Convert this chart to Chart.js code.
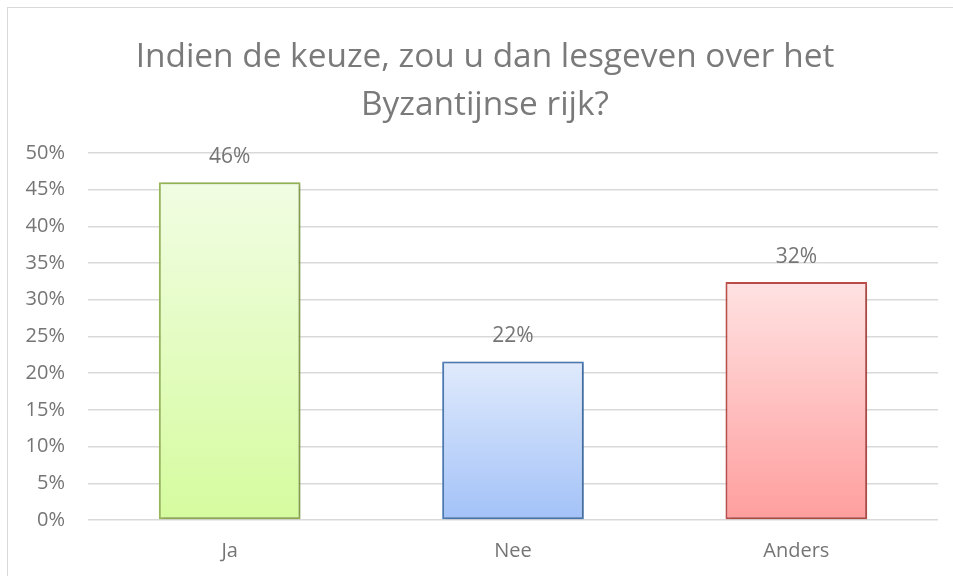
<!DOCTYPE html>
<html>
<head>
<meta charset="utf-8">
<script src="https://cdn.jsdelivr.net/npm/chart.js@4.4.1/dist/chart.umd.min.js"></script>
<style>
  html, body { margin: 0; padding: 0; background: #ffffff; overflow: hidden; }
  #frame { position: absolute; left: 7px; top: 7px; width: 1000px; height: 1000px; border: 1px solid #d9d9d9; }
  #wrap { position: absolute; left: 0; top: 0; width: 953px; height: 576px; }
</style>
</head>
<body>
<div id="frame"></div>
<div id="wrap"><canvas id="c" width="953" height="576"></canvas></div>
<script>
const titleLines = ["Indien de keuze, zou u dan lesgeven over het", "Byzantijnse rijk?"];
const categories = ["Ja", "Nee", "Anders"];
const values = [46, 21.6, 32.4];
const valueLabels = ["46%", "22%", "32%"];
const yTicks = [0, 5, 10, 15, 20, 25, 30, 35, 40, 45, 50];
const gradTop = ["#f1fde3", "#e0eafc", "#ffe2e2"];
const gradBottom = ["#d5fb9e", "#a3c2f8", "#ff9e9e"];
const borders = ["#9bbb59", "#4f81bd", "#c0504d"];

const textGray = "#757575";

const labelPlugin = {
  id: "valueLabels",
  afterDatasetsDraw(chart) {
    const ctx = chart.ctx;
    const meta = chart.getDatasetMeta(0);
    ctx.save();
    ctx.font = "21px 'Open Sans'";
    ctx.fillStyle = textGray;
    ctx.textAlign = "center";
    ctx.textBaseline = "middle";
    meta.data.forEach((bar, i) => {
      ctx.fillText(valueLabels[i], bar.x, bar.y - 25);
    });
    ctx.restore();
  }
};

const shadowPlugin = {
  id: "barShadow",
  beforeDatasetsDraw(chart) {
    chart.ctx.save();
    chart.ctx.shadowColor = "rgba(0,0,0,0.25)";
    chart.ctx.shadowBlur = 4;
    chart.ctx.shadowOffsetX = 1;
    chart.ctx.shadowOffsetY = 1;
  },
  afterDatasetsDraw(chart) {
    chart.ctx.restore();
  }
};

const titleShift = {
  id: "titleShift",
  afterLayout(chart) {
    if (chart.titleBlock) {
      chart.titleBlock.left = 32;
    }
  }
};

new Chart(document.getElementById("c"), {
  type: "bar",
  data: {
    labels: categories,
    datasets: [{
      data: values,
      backgroundColor: (ctx) => {
        const area = ctx.chart.chartArea;
        if (!area) return gradBottom[ctx.dataIndex];
        const y = ctx.chart.scales.y;
        const g = ctx.chart.ctx.createLinearGradient(0, y.getPixelForValue(values[ctx.dataIndex]), 0, y.getPixelForValue(0));
        g.addColorStop(0, gradTop[ctx.dataIndex]);
        g.addColorStop(1, gradBottom[ctx.dataIndex]);
        return g;
      },
      borderColor: borders,
      borderWidth: 2,
      borderSkipped: false,
      categoryPercentage: 1.0,
      barPercentage: 0.5
    }]
  },
  options: {
    responsive: false,
    animation: false,
    events: [],
    layout: { padding: { left: 8, right: 15, top: 8, bottom: 0 } },
    plugins: {
      legend: { display: false },
      tooltip: { enabled: false },
      title: {
        display: true,
        text: titleLines,
        color: "#7a7a7a",
        font: { family: "Open Sans", size: 33.4, weight: "normal", lineHeight: 1.42 },
        padding: { top: 26, bottom: 24 }
      }
    },
    scales: {
      x: {
        grid: { display: false, drawTicks: false },
        border: { display: false },
        ticks: { color: textGray, font: { family: "Open Sans", size: 20 }, padding: 19 },
        afterFit: (s) => { s.height = 56; }
      },
      y: {
        min: 0,
        max: 50,
        afterBuildTicks: (s) => { s.ticks = yTicks.map(v => ({ value: v })); },
        grid: { color: "#d9d9d9", lineWidth: 1.5, drawTicks: false },
        border: { display: false },
        ticks: {
          color: textGray,
          font: { family: "Open Sans", size: 20 },
          padding: 23,
          callback: (v) => v + "%"
        },
        afterFit: (s) => { s.width = 80; }
      }
    }
  },
  plugins: [shadowPlugin, labelPlugin, titleShift]
});
</script>
</body>
</html>
